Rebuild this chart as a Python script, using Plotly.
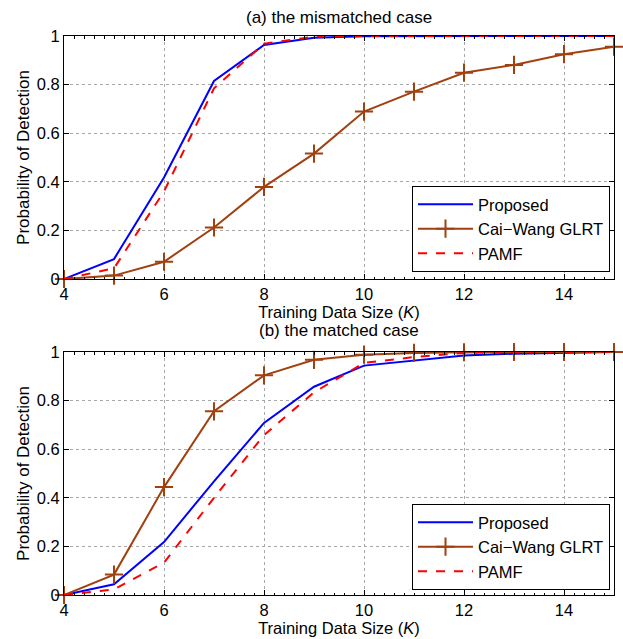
import plotly.graph_objects as go

K = [4, 5, 6, 7, 8, 9, 10, 11, 12, 13, 14, 15]

# (a) mismatched case
a_proposed = [0.0, 0.082, 0.418, 0.815, 0.963, 0.993, 0.999, 1.0, 1.0, 1.0, 1.0, 1.0]
a_caiwang = [0.0, 0.014, 0.071, 0.212, 0.379, 0.516, 0.689, 0.771, 0.849, 0.881, 0.925, 0.956]
a_pamf = [0.0, 0.044, 0.36, 0.785, 0.968, 0.997, 1.0, 1.0, 1.0, 1.0, 1.0, 1.0]

# (b) matched case
b_proposed = [0.0, 0.044, 0.218, 0.468, 0.708, 0.857, 0.944, 0.966, 0.986, 0.993, 0.996, 1.0]
b_caiwang = [0.0, 0.084, 0.444, 0.756, 0.904, 0.968, 0.989, 0.996, 0.999, 1.0, 1.0, 1.0]
b_pamf = [0.0, 0.023, 0.133, 0.40, 0.658, 0.834, 0.955, 0.979, 0.996, 1.0, 1.0, 1.0]

x_ticks = [4, 6, 8, 10, 12, 14]
y_ticks = [0, 0.2, 0.4, 0.6, 0.8, 1]

BLUE = "#0000FF"
BROWN = "#A0410F"
RED = "#FF0000"
FONT = "Liberation Sans, Arial, sans-serif"

fig = go.Figure()

def add_set(prop, cw, pamf, xa, ya, leg):
    fig.add_trace(go.Scatter(x=K, y=prop, mode="lines", name="Proposed",
                             line=dict(color=BLUE, width=2), xaxis=xa, yaxis=ya, legend=leg))
    fig.add_trace(go.Scatter(x=K, y=cw, mode="lines+markers", name="Cai\u2212Wang GLRT",
                             line=dict(color=BROWN, width=2),
                             marker=dict(symbol="cross-thin", size=13,
                                         line=dict(color=BROWN, width=2)),
                             xaxis=xa, yaxis=ya, legend=leg, cliponaxis=False))
    fig.add_trace(go.Scatter(x=K, y=pamf, mode="lines", name="PAMF",
                             line=dict(color=RED, width=2, dash="dash"),
                             xaxis=xa, yaxis=ya, legend=leg))

add_set(a_proposed, a_caiwang, a_pamf, "x", "y", "legend")
add_set(b_proposed, b_caiwang, b_pamf, "x2", "y2", "legend2")

W, H = 623, 639
xdom = [64 / W, 614 / W]
ydom_a = [(H - 279) / H, (H - 36) / H]
ydom_b = [(H - 595) / H, (H - 352) / H]

def xaxis(dom_anchor):
    return dict(domain=xdom, range=[4, 15], anchor=dom_anchor, automargin=False,
                tickvals=x_ticks, ticks="inside", ticklen=5, tickcolor="black",
                showline=True, linecolor="black", linewidth=1, mirror="ticks",
                showgrid=True, gridcolor="#a8a8a8", griddash="dot", gridwidth=1,
                zeroline=False, tickfont=dict(size=16.5, color="black", family=FONT),
                minor=dict(dtick=0.2, ticks="inside", ticklen=2.5, tickcolor="black", showgrid=False),
                title=dict(text="Training Data Size (<i>K</i>)", standoff=0,
                           font=dict(size=16.5, color="black", family=FONT)))

def yaxis(dom, anchor):
    return dict(domain=dom, range=[0, 1], anchor=anchor, automargin=False,
                tickvals=y_ticks, ticktext=["0", "0.2", "0.4", "0.6", "0.8", "1"],
                ticks="inside", ticklen=5, tickcolor="black",
                showline=True, linecolor="black", linewidth=1, mirror="ticks",
                showgrid=True, gridcolor="#a8a8a8", griddash="dot", gridwidth=1,
                zeroline=False, tickfont=dict(size=16.5, color="black", family=FONT),
                title=dict(text="Probability of Detection", standoff=2,
                           font=dict(size=17, color="black", family=FONT)))

legend_common = dict(bgcolor="white", bordercolor="black", borderwidth=1,
                     font=dict(size=16.5, color="black", family=FONT),
                     xanchor="right", yanchor="bottom", itemwidth=55,
                     tracegroupgap=0)

fig.update_layout(
    width=W, height=H,
    margin=dict(l=0, r=0, t=0, b=0),
    paper_bgcolor="white", plot_bgcolor="white",
    font=dict(family=FONT, color="black"),
    xaxis=xaxis("y"), yaxis=yaxis(ydom_a, "x"),
    xaxis2=xaxis("y2"), yaxis2=yaxis(ydom_b, "x2"),
    legend=dict(x=610 / W, y=(H - 272) / H, **legend_common),
    legend2=dict(x=610 / W, y=(H - 590) / H, **legend_common),
    annotations=[
        dict(text="(a) the mismatched case", x=339 / W, y=(H - 17) / H, xref="paper", yref="paper",
             showarrow=False, font=dict(size=17, color="black", family=FONT), yanchor="middle"),
        dict(text="(b) the matched case", x=339 / W, y=(H - 331) / H, xref="paper", yref="paper",
             showarrow=False, font=dict(size=17, color="black", family=FONT), yanchor="middle"),
    ],
)

fig.write_html("out.html", post_script="document.body.style.margin='0';",
               config={"displayModeBar": False})
